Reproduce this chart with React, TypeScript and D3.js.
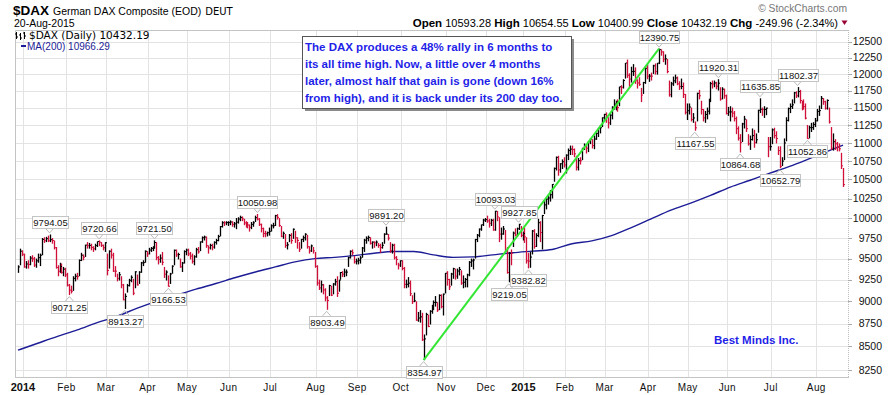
import React, { useRef, useEffect } from 'react';
import * as d3 from 'd3';

// month axis: bar count per month, first group is the tail of Dec 2013 (no label)
const monthLabels = ['', '2014', 'Feb', 'Mar', 'Apr', 'May', 'Jun', 'Jul', 'Aug', 'Sep', 'Oct', 'Nov', 'Dec',
  '2015', 'Feb', 'Mar', 'Apr', 'May', 'Jun', 'Jul', 'Aug'];
const barsPerMonth = [3, 22, 20, 21, 20, 21, 21, 23, 21, 22, 23, 20, 19, 21, 20, 22, 20, 20, 22, 23, 14];

// daily closes, one row per month
const closes = [
  [9400, 9589, 9552],
  [9400, 9435, 9428, 9506, 9497, 9422, 9473, 9511, 9540, 9733, 9717, 9742, 9716, 9730, 9720, 9631, 9392, 9349, 9406, 9336, 9374, 9306],
  [9186, 9128, 9116, 9265, 9290, 9285, 9478, 9541, 9517, 9663, 9657, 9660, 9635, 9618, 9657, 9708, 9699, 9661, 9631, 9692],
  [9358, 9589, 9542, 9351, 9350, 9265, 9307, 9188, 9017, 9056, 9180, 9242, 9277, 9093, 9342, 9189, 9338, 9448, 9451, 9588, 9556],
  [9603, 9623, 9628, 9695, 9511, 9490, 9506, 9455, 9315, 9339, 9173, 9317, 9409, 9600, 9545, 9549, 9401, 9446, 9584, 9603],
  [9556, 9530, 9467, 9521, 9607, 9581, 9703, 9754, 9762, 9656, 9630, 9660, 9639, 9697, 9720, 9768, 9892, 9940, 9939, 9943, 9943],
  [9950, 9920, 9927, 9947, 9987, 10008, 9990, 9938, 9929, 9912, 9883, 9920, 9940, 10004, 9987, 9921, 9867, 9805, 9803, 9816, 9833],
  [9902, 9903, 10029, 10009, 9906, 9772, 9808, 9659, 9666, 9783, 9719, 9859, 9753, 9720, 9612, 9734, 9753, 9797, 9644, 9593, 9653, 9593, 9407],
  [9210, 9154, 9189, 9130, 9039, 9010, 9180, 9070, 9199, 9225, 9092, 9246, 9334, 9314, 9339, 9339, 9510, 9588, 9569, 9462, 9470],
  [9480, 9507, 9627, 9724, 9747, 9758, 9686, 9700, 9691, 9700, 9659, 9633, 9661, 9798, 9799, 9749, 9595, 9662, 9510, 9490, 9422, 9474],
  [9382, 9195, 9196, 9209, 9086, 8996, 9005, 8788, 8812, 8825, 8572, 8582, 8850, 8717, 8887, 8940, 8987, 8988, 8902, 9068, 8940, 9082, 9326],
  [9252, 9167, 9316, 9378, 9291, 9351, 9369, 9210, 9220, 9252, 9306, 9456, 9472, 9483, 9732, 9785, 9861, 9915, 9974, 9980],
  [9963, 9934, 9971, 9851, 10087, 10014, 9799, 9800, 9862, 9594, 9334, 9564, 9563, 9811, 9787, 9865, 9922, 9783, 9806],
  [9765, 9473, 9469, 9518, 9837, 9648, 9781, 9941, 9818, 10032, 10168, 10242, 10257, 10299, 10436, 10649, 10798, 10628, 10710, 10738, 10694],
  [10828, 10891, 10911, 10905, 10846, 10664, 10753, 10752, 10919, 10963, 10924, 11014, 11050, 10961, 11051, 11131, 11206, 11210, 11352, 11402],
  [11356, 11280, 11390, 11504, 11551, 11582, 11500, 11806, 11799, 11901, 12167, 11980, 11922, 12036, 12040, 11896, 11864, 11843, 11683, 11869, 12086, 11966],
  [11968, 11967, 12123, 12036, 12166, 12375, 12339, 12227, 12232, 12036, 11689, 11850, 11896, 11939, 11850, 11811, 11811, 11694, 11432, 11454],
  [11508, 11327, 11350, 11209, 11709, 11673, 11472, 11351, 11400, 11447, 11594, 11853, 11848, 11864, 11815, 11860, 11625, 11771, 11673, 11413],
  [11436, 11437, 11419, 11340, 11197, 11064, 11001, 11265, 11333, 11197, 10984, 11044, 11099, 11000, 11041, 11460, 11476, 11471, 11472, 11492, 10945, 10945],
  [11180, 11099, 11058, 10891, 10676, 10747, 10996, 11315, 11485, 11516, 11540, 11716, 11673, 11735, 11604, 11520, 11513, 11347, 11056, 11211, 11212, 11257, 11308],
  [11444, 11456, 11636, 11585, 11490, 11604, 11293, 10925, 11014, 10985, 10940, 10915, 10682.15, 10432.19],
].flat();

const highs = [
  [9420, 9620, 9600],
  [9560, 9470, 9480, 9530, 9540, 9520, 9500, 9560, 9560, 9750, 9760, 9765, 9780, 9794.05, 9750, 9720, 9640, 9420, 9450, 9440, 9400, 9390],
  [9330, 9200, 9180, 9290, 9320, 9330, 9490, 9570, 9550, 9670, 9700, 9690, 9680, 9650, 9680, 9710, 9720.66, 9700, 9670, 9700],
  [9560, 9600, 9620, 9570, 9410, 9320, 9340, 9290, 9200, 9090, 9200, 9260, 9300, 9260, 9350, 9310, 9350, 9460, 9480, 9600, 9590],
  [9630, 9640, 9650, 9721.5, 9700, 9530, 9550, 9580, 9400, 9360, 9300, 9330, 9420, 9610, 9610, 9570, 9500, 9460, 9600, 9620],
  [9620, 9580, 9560, 9540, 9630, 9640, 9710, 9770, 9780, 9770, 9660, 9680, 9680, 9710, 9740, 9790, 9900, 9960, 9960, 9960, 9960],
  [9970, 9960, 9950, 10000, 10010, 10030, 10020, 9990, 9960, 9950, 9920, 9950, 9960, 10030, 10050.98, 10000, 9930, 9880, 9840, 9830, 9880],
  [9920, 9940, 10040, 10050, 10000, 9900, 9830, 9800, 9700, 9800, 9810, 9870, 9840, 9760, 9700, 9740, 9780, 9810, 9790, 9650, 9670, 9640, 9580],
  [9420, 9250, 9240, 9200, 9150, 9060, 9190, 9180, 9210, 9260, 9290, 9250, 9340, 9350, 9380, 9370, 9520, 9600, 9610, 9530, 9500],
  [9510, 9530, 9640, 9740, 9770, 9780, 9760, 9710, 9710, 9720, 9690, 9680, 9700, 9810, 9891.2, 9800, 9700, 9680, 9680, 9530, 9450, 9480],
  [9480, 9400, 9250, 9280, 9240, 9070, 9100, 9000, 8880, 8900, 8870, 8630, 8870, 8850, 8900, 8960, 9010, 9060, 8990, 9080, 9080, 9090, 9330],
  [9350, 9260, 9330, 9390, 9380, 9380, 9400, 9360, 9300, 9270, 9320, 9470, 9500, 9500, 9740, 9800, 9870, 9920, 9990, 10000],
  [10030, 9990, 9990, 9990, 10093.03, 10090, 10010, 9880, 9900, 9850, 9640, 9580, 9610, 9830, 9870, 9880, 9927.85, 9900, 9830],
  [9880, 9760, 9570, 9580, 9850, 9860, 9810, 9990, 9960, 10040, 10230, 10260, 10290, 10360, 10440, 10660, 10810, 10820, 10720, 10770, 10800],
  [10840, 10920, 10960, 10960, 10920, 10820, 10790, 10800, 10930, 10990, 10970, 11020, 11060, 11050, 11100, 11140, 11210, 11250, 11360, 11410],
  [11430, 11360, 11410, 11520, 11620, 11600, 11620, 11810, 11830, 11920, 12170, 12220, 12010, 12110, 12150, 12100, 11920, 11950, 11790, 11880, 12100, 12140],
  [12000, 12020, 12140, 12160, 12170, 12390.75, 12380, 12350, 12300, 12230, 11900, 11880, 11960, 11990, 11960, 11890, 11930, 11870, 11700, 11560],
  [11560, 11500, 11420, 11300, 11720, 11760, 11600, 11480, 11450, 11500, 11630, 11880, 11900, 11900, 11880, 11920.31, 11800, 11800, 11780, 11690],
  [11510, 11520, 11500, 11450, 11370, 11230, 11120, 11280, 11380, 11330, 11120, 11100, 11200, 11180, 11130, 11470, 11635.85, 11500, 11520, 11500, 11080, 11080],
  [11200, 11210, 11160, 10950, 10950, 10800, 11060, 11360, 11500, 11560, 11620, 11730, 11740, 11802.37, 11760, 11600, 11620, 11560, 11250, 11240, 11280, 11290, 11350],
  [11480, 11530, 11670, 11640, 11600, 11620, 11500, 11220, 11130, 11050, 11010, 10990, 10860, 10654.55],
].flat();

const lows = [
  [9330, 9420, 9530],
  [9390, 9380, 9380, 9420, 9460, 9400, 9390, 9450, 9410, 9540, 9690, 9700, 9700, 9700, 9680, 9610, 9380, 9290, 9330, 9320, 9290, 9280],
  [9170, 9071.25, 9090, 9120, 9230, 9250, 9290, 9470, 9480, 9520, 9620, 9620, 9600, 9580, 9600, 9640, 9650, 9640, 9600, 9580],
  [9300, 9380, 9500, 9340, 9280, 9230, 9240, 9150, 9010, 8913.27, 9100, 9170, 9220, 9070, 9150, 9180, 9200, 9330, 9410, 9450, 9520],
  [9550, 9580, 9590, 9620, 9480, 9430, 9450, 9420, 9270, 9240, 9166.53, 9200, 9320, 9420, 9520, 9490, 9390, 9340, 9440, 9540],
  [9530, 9490, 9440, 9420, 9510, 9560, 9590, 9690, 9720, 9630, 9560, 9610, 9600, 9620, 9670, 9710, 9770, 9880, 9900, 9910, 9900],
  [9910, 9890, 9880, 9860, 9930, 9960, 9960, 9910, 9880, 9870, 9830, 9860, 9890, 9950, 9970, 9900, 9820, 9760, 9760, 9770, 9780],
  [9830, 9870, 9900, 9980, 9890, 9760, 9740, 9630, 9610, 9700, 9680, 9740, 9690, 9620, 9580, 9620, 9700, 9720, 9620, 9560, 9580, 9560, 9390],
  [9180, 9130, 9100, 9080, 9000, 8903.49, 9060, 9060, 9080, 9180, 9050, 9110, 9250, 9280, 9280, 9290, 9400, 9500, 9540, 9440, 9430],
  [9430, 9440, 9510, 9580, 9680, 9710, 9670, 9620, 9630, 9650, 9630, 9570, 9620, 9680, 9790, 9720, 9570, 9560, 9490, 9420, 9370, 9400],
  [9360, 9150, 9150, 9160, 9060, 8970, 8990, 8780, 8770, 8760, 8560, 8354.97, 8620, 8710, 8740, 8860, 8900, 8940, 8880, 8900, 8920, 8840, 9090],
  [9180, 9130, 9180, 9260, 9250, 9260, 9300, 9190, 9150, 9160, 9160, 9290, 9400, 9370, 9500, 9700, 9760, 9840, 9900, 9950],
  [9940, 9880, 9900, 9840, 9840, 9960, 9700, 9730, 9790, 9590, 9320, 9219.05, 9420, 9640, 9770, 9770, 9850, 9760, 9720],
  [9690, 9440, 9382.82, 9390, 9550, 9620, 9640, 9760, 9700, 9610, 10050, 10110, 10170, 10210, 10250, 10470, 10620, 10550, 10590, 10640, 10660],
  [10580, 10760, 10830, 10830, 10800, 10620, 10620, 10700, 10760, 10900, 10850, 10870, 10980, 10920, 10910, 11040, 11080, 11130, 11220, 11300],
  [11280, 11200, 11250, 11330, 11470, 11460, 11440, 11520, 11700, 11780, 11930, 11940, 11800, 11870, 11970, 11850, 11780, 11820, 11580, 11700, 11850, 11920],
  [11880, 11900, 12000, 11990, 11990, 12150, 12280, 12180, 12140, 12010, 11660, 11650, 11820, 11860, 11830, 11760, 11770, 11640, 11400, 11320],
  [11400, 11300, 11280, 11167.55, 11300, 11620, 11400, 11300, 11280, 11330, 11400, 11580, 11780, 11800, 11770, 11750, 11600, 11620, 11630, 11400],
  [11380, 11300, 11360, 11300, 11120, 11030, 10864.68, 11010, 11200, 11150, 10960, 10900, 11030, 10930, 10990, 11140, 11420, 11380, 11350, 11390, 10800, 10890],
  [10980, 11060, 10990, 10830, 10652.79, 10680, 10760, 11020, 11300, 11420, 11480, 11560, 11640, 11650, 11560, 11460, 11470, 11330, 11052.86, 11060, 11150, 11180, 11220],
  [11300, 11380, 11480, 11540, 11470, 11470, 11270, 10900, 10890, 10900, 10880, 10880, 10640, 10400.99],
].flat();

// 200-day moving average, read every 10 bars
const maIndex = [0, 10, 20, 30, 40, 50, 60, 70, 80, 90, 100, 110, 120, 130, 140, 150, 160, 170, 180, 190, 200,
  210, 220, 230, 240, 250, 260, 270, 280, 290, 300, 310, 320, 330, 340, 350, 360, 370, 380, 390, 400, 410, 417];
const maValues = [8460, 8535, 8610, 8680, 8760, 8830, 8920, 9000, 9070, 9140, 9205, 9275, 9340, 9400, 9460, 9500,
  9515, 9535, 9565, 9585, 9585, 9545, 9515, 9520, 9545, 9570, 9590, 9610, 9680, 9715, 9780, 9880, 9990, 10100,
  10190, 10290, 10400, 10490, 10585, 10675, 10780, 10890, 10966.29];

const yTicks = [8250, 8500, 8750, 9000, 9250, 9500, 9750, 10000, 10250, 10500, 10750, 11000, 11250, 11500, 11750, 12000, 12250, 12500];

// peak / trough annotations (bar index, which end of the bar)
const callouts: [number, 'hi' | 'lo'][] = [
  [16, 'hi'], [26, 'lo'], [41, 'hi'], [54, 'lo'], [69, 'hi'], [76, 'lo'], [121, 'hi'], [156, 'lo'],
  [186, 'hi'], [205, 'lo'], [241, 'hi'], [248, 'lo'], [253, 'hi'], [258, 'lo'], [324, 'hi'], [342, 'lo'],
  [354, 'hi'], [365, 'lo'], [375, 'hi'], [385, 'lo'], [394, 'hi'], [399, 'lo'],
];
const trendFrom = 205;
const trendTo = 324;
const openLast = 10593.28;

const noteLines = [
  'The DAX produces a 48% rally in 6 months to',
  'its all time high. Now, a little over 4 months',
  'later, almost half that gain is gone (down 16%',
  'from high), and it is back under its 200 day too.',
];

const W = 896;
const H = 395;
const ARIAL = '"Liberation Sans", Arial, sans-serif';
const VERD = '"DejaVu Sans", Verdana, sans-serif';
const RED = '#d0103a';
const BLUE = '#1f1fe8';
const NAVY = '#1c1c96';

const App: React.FC = () => {
  const svgRef = useRef<SVGSVGElement | null>(null);

  useEffect(() => {
    document.body.style.margin = '0';
    const svg = d3.select(svgRef.current);
    svg.selectAll('*').remove();

    const left = 15, right = 848, top = 30, bottom = 377;
    const x = d3.scaleLinear().domain([-1.5, 419.5]).range([left, right]);
    const y = d3.scaleLog().domain([8178, 12686]).range([bottom, top]);

    svg.append('rect').attr('width', W).attr('height', H).attr('fill', '#fff');

    // first bar of each month
    const starts = d3.cumsum([0, ...barsPerMonth.slice(0, -1)]);

    // grid
    const grid = svg.append('g');
    grid.selectAll('line.h').data(yTicks).enter().append('line')
      .attr('x1', left).attr('x2', right)
      .attr('y1', (d: number) => Math.round(y(d)) + 0.5).attr('y2', (d: number) => Math.round(y(d)) + 0.5)
      .attr('stroke', '#e3e3e3');
    grid.selectAll('line.v').data(Array.from(starts).slice(1)).enter().append('line')
      .attr('x1', (d: number) => Math.round(x(d) - 1) + 0.5).attr('x2', (d: number) => Math.round(x(d) - 1) + 0.5)
      .attr('y1', top).attr('y2', bottom)
      .attr('stroke', '#e3e3e3');

    // frame
    svg.append('path')
      .attr('d', `M${left + 0.5},${bottom + 0.5}V${top + 0.5}H${right + 0.5}`)
      .attr('fill', 'none').attr('stroke', '#c4c4c4');
    svg.append('line').attr('x1', left).attr('x2', right + 1)
      .attr('y1', bottom + 0.5).attr('y2', bottom + 0.5).attr('stroke', '#c4c4c4');
    svg.append('line').attr('x1', right + 0.5).attr('x2', right + 0.5)
      .attr('y1', top).attr('y2', bottom + 1).attr('stroke', '#bdbdbd').attr('stroke-dasharray', '1 1');

    // y axis labels
    const ya = svg.append('g');
    ya.selectAll('line').data(yTicks).enter().append('line')
      .attr('x1', right).attr('x2', right + 4)
      .attr('y1', (d: number) => Math.round(y(d)) + 0.5).attr('y2', (d: number) => Math.round(y(d)) + 0.5)
      .attr('stroke', '#aaa');
    ya.selectAll('text').data(yTicks).enter().append('text')
      .attr('x', 882).attr('y', (d: number) => y(d) + 3.8)
      .attr('text-anchor', 'end').attr('font-family', ARIAL).attr('font-size', 10.5).attr('fill', '#111')
      .text((d: number) => String(d));

    // x axis labels
    const xa = svg.append('g');
    monthLabels.forEach((m, k) => {
      if (!m) return;
      const year = m.length === 4;
      xa.append('text')
        .attr('x', x(starts[k]) - 1).attr('y', 390.5)
        .attr('text-anchor', 'middle').attr('font-family', ARIAL)
        .attr('font-size', year ? 11 : 10).attr('font-weight', year ? 'bold' : 'normal')
        .attr('fill', '#111').attr('letter-spacing', year ? 0 : 0.4)
        .text(m);
    });

    // note box
    const note = svg.append('g');
    note.append('rect').attr('x', 305).attr('y', 39).attr('width', 269).attr('height', 72).attr('fill', '#8a8a8a');
    note.append('rect').attr('x', 302.5).attr('y', 36.5).attr('width', 269).attr('height', 72)
      .attr('fill', '#fff').attr('stroke', '#555');
    noteLines.forEach((t, k) => {
      note.append('text').attr('x', 305).attr('y', 51 + k * 17)
        .attr('font-family', ARIAL).attr('font-size', 11.5).attr('font-weight', 'bold').attr('fill', BLUE)
        .text(t);
    });
    svg.append('text').attr('x', 714).attr('y', 343.5)
      .attr('font-family', ARIAL).attr('font-size', 11.5).attr('font-weight', 'bold').attr('fill', BLUE)
      .text('Best Minds Inc.');

    // moving average
    const maLine = d3.line<number>()
      .x((_: number, k: number) => x(maIndex[k]))
      .y((d: number) => y(d))
      .curve(d3.curveMonotoneX);
    svg.append('path').datum(maValues).attr('d', maLine)
      .attr('fill', 'none').attr('stroke', NAVY).attr('stroke-width', 1.4);

    // price bars, red when the close is below the previous close
    const idx = d3.range(closes.length);
    const color = (i: number) => (i > 0 && closes[i] < closes[i - 1] ? RED : '#000');
    const bars = svg.append('g');
    bars.selectAll('line.bar').data(idx).enter().append('line')
      .attr('x1', (i: number) => Math.round(x(i)) + 0.5).attr('x2', (i: number) => Math.round(x(i)) + 0.5)
      .attr('y1', (i: number) => y(highs[i])).attr('y2', (i: number) => y(lows[i]))
      .attr('stroke', color).attr('stroke-width', 1.3);
    bars.selectAll('line.cl').data(idx).enter().append('line')
      .attr('x1', (i: number) => Math.round(x(i)) + 1).attr('x2', (i: number) => Math.round(x(i)) + 2)
      .attr('y1', (i: number) => y(closes[i])).attr('y2', (i: number) => y(closes[i]))
      .attr('stroke', color).attr('stroke-width', 1);

    // trend line low -> high
    svg.append('line')
      .attr('x1', x(trendFrom)).attr('y1', y(lows[trendFrom]))
      .attr('x2', x(trendTo)).attr('y2', y(highs[trendTo]))
      .attr('stroke', '#33e633').attr('stroke-width', 2);

    // callouts
    const co = svg.append('g');
    callouts.forEach(([i, kind]) => {
      const v = kind === 'hi' ? highs[i] : lows[i];
      const cx = x(i);
      const vy = y(v);
      const label = v.toFixed(2);
      const w = Math.round(label.length * 4.6 + 3.5);
      const bh = 12;
      const by = kind === 'hi' ? vy - 6 - bh : vy + 6;
      const tipY = kind === 'hi' ? vy - 1.5 : vy + 1.5;
      const baseY = kind === 'hi' ? by + bh : by;
      const bx = Math.round(cx - w / 2) + 0.5;
      co.append('path')
        .attr('d', `M${cx - 4},${baseY}L${cx},${tipY}L${cx + 4},${baseY}`)
        .attr('fill', 'none').attr('stroke', '#bbb');
      co.append('rect')
        .attr('x', bx).attr('y', Math.round(by) + 0.5)
        .attr('width', w).attr('height', bh)
        .attr('fill', '#fff').attr('stroke', '#c4c4c4');
      co.append('text')
        .attr('x', bx + w / 2).attr('y', Math.round(by) + 10)
        .attr('text-anchor', 'middle').attr('font-family', ARIAL).attr('font-size', 9.5).attr('fill', '#111')
        .text(label);
    });

    // legend
    const lg = svg.append('g');
    lg.append('path')
      .attr('d', 'M16.5,32V39M15,34H16.5M16.5,37H18M20.5,33V40M19,35H20.5M20.5,38H22M24.5,32V39M23,33H24.5M24.5,36H26')
      .attr('stroke', '#000').attr('stroke-width', 1).attr('fill', 'none');
    lg.append('text').attr('x', 29).attr('y', 38.5)
      .attr('font-family', VERD).attr('font-size', 10.5).attr('fill', '#000')
      .text(`$DAX (Daily) ${closes[closes.length - 1].toFixed(2)}`);
    lg.append('line').attr('x1', 21).attr('x2', 26).attr('y1', 46).attr('y2', 46)
      .attr('stroke', NAVY).attr('stroke-width', 2);
    lg.append('text').attr('x', 27).attr('y', 50)
      .attr('font-family', ARIAL).attr('font-size', 10).attr('fill', NAVY)
      .text(`MA(200) ${maValues[maValues.length - 1].toFixed(2)}`);

    // header
    const hd = svg.append('g');
    const t1 = hd.append('text').attr('x', 13).attr('y', 14.5).attr('font-family', ARIAL);
    t1.append('tspan').attr('font-size', 13.5).attr('font-weight', 'bold').text('$DAX');
    t1.append('tspan').attr('font-size', 10.5).attr('dx', 4).text('German DAX Composite (EOD)');
    t1.append('tspan').attr('font-size', 10).attr('font-family', VERD).attr('dx', 4).text('DEUT');
    hd.append('text').attr('x', 14).attr('y', 26.5).attr('font-family', ARIAL).attr('font-size', 10.5)
      .text('20-Aug-2015');
    hd.append('text').attr('x', 847).attr('y', 12).attr('text-anchor', 'end')
      .attr('font-family', ARIAL).attr('font-size', 10.3).attr('fill', '#777')
      .text('\u00A9 StockCharts.com');

    const n = closes.length;
    const last = closes[n - 1];
    const prev = closes[n - 2];
    const chg = last - prev;
    const parts: [string, boolean][] = [
      ['Open', true], [` ${openLast.toFixed(2)} `, false],
      ['High', true], [` ${highs[n - 1].toFixed(2)} `, false],
      ['Low', true], [` ${lows[n - 1].toFixed(2)} `, false],
      ['Close', true], [` ${last.toFixed(2)} `, false],
      ['Chg', true], [` ${chg.toFixed(2)} (${((chg / prev) * 100).toFixed(2)}%)`, false],
    ];
    const t2 = hd.append('text').attr('x', 838).attr('y', 26.5).attr('text-anchor', 'end')
      .attr('font-family', ARIAL).attr('font-size', 11).attr('fill', '#000');
    parts.forEach(([s, b]) => {
      t2.append('tspan').attr('font-weight', b ? 'bold' : 'normal').attr('font-size', b ? 11.5 : 11)
        .attr('xml:space', 'preserve').text(s);
    });
    hd.append('path').attr('d', 'M841.5,20.5L847.5,20.5L844.5,25Z').attr('fill', '#990033');
  }, []);

  return <svg ref={svgRef} width={W} height={H} style={{ display: 'block', background: '#fff' }} />;
};

export default App;
